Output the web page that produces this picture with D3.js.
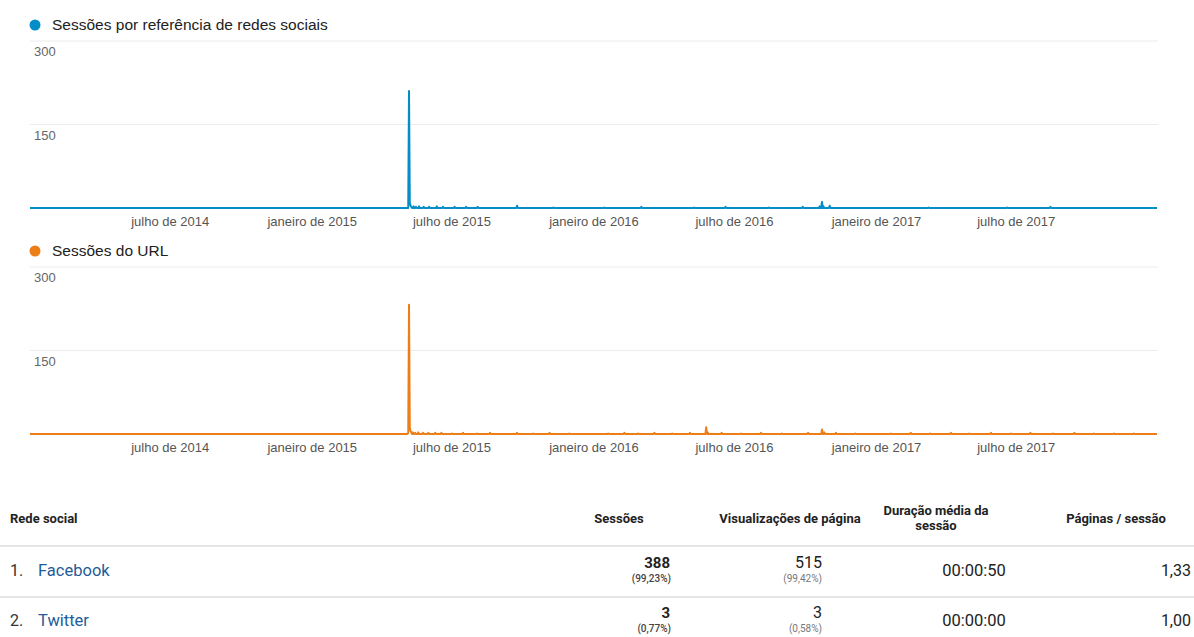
<!DOCTYPE html>
<html><head><meta charset="utf-8">
<script src="https://cdn.jsdelivr.net/npm/d3@7"></script>
<style>
html,body{margin:0;padding:0;background:#fff;overflow:hidden;}
svg{display:block;}
</style></head>
<body>
<svg id="c" width="1194" height="637"></svg>
<script>
// ---------- DATA ----------
const startDate = "2014-01-01";
const endDate = "2017-12-31";
const tickDates = ["2014-07-01","2015-01-01","2015-07-01","2016-01-01","2016-07-01","2017-01-01","2017-07-01"];
const tickLabels = ["julho de 2014","janeiro de 2015","julho de 2015","janeiro de 2016","julho de 2016","janeiro de 2017","julho de 2017"];
const yTicks = [0,150,300];

const seriesNames = ["Sessões por referência de redes sociais","Sessões do URL"];
const seriesColors = ["#058dc7","#ed7e17"];

// non-zero days (all other days are 0)
const socialDates = ["2015-05-07","2015-05-08","2015-05-09","2015-05-10","2015-05-13","2015-05-16","2015-05-20","2015-05-26","2015-06-02","2015-06-12","2015-06-20","2015-07-05","2015-07-20","2015-08-04","2015-09-24","2015-11-10","2016-01-15","2016-03-03","2016-05-10","2016-06-20","2016-08-15","2016-09-28","2016-10-20","2016-10-23","2016-10-25","2016-11-02","2017-03-10","2017-06-20","2017-08-15"];
const socialValues = [210,10,4,2,3,2,3,2,2,3,2,2,2,2,4,1,1,2,1,2,1,2,3,11,3,4,1,1,2];

const urlDates = ["2015-05-06","2015-05-07","2015-05-08","2015-05-09","2015-05-10","2015-05-12","2015-05-15","2015-05-19","2015-05-25","2015-06-01","2015-06-10","2015-06-18","2015-07-02","2015-07-16","2015-08-03","2015-08-20","2015-09-24","2015-10-15","2015-11-05","2015-12-01","2016-01-20","2016-02-10","2016-02-28","2016-03-20","2016-04-12","2016-05-05","2016-05-26","2016-05-28","2016-06-15","2016-07-10","2016-08-05","2016-09-01","2016-10-05","2016-10-23","2016-10-26","2016-11-10","2016-12-05","2017-01-20","2017-02-15","2017-03-12","2017-04-08","2017-05-02","2017-05-30","2017-06-25","2017-07-20","2017-08-18","2017-09-15","2017-10-10","2017-11-05","2017-12-01"];
const urlValues = [2,232,12,5,3,3,2,3,2,2,2,2,1,2,1,2,2,1,2,1,1,2,1,2,1,2,12,3,2,1,2,1,2,8,3,2,1,1,2,1,2,1,2,1,2,1,2,1,1,1];

const tableHeaders = ["Rede social","Sessões","Visualizações de página","Duração média da|sessão","Páginas / sessão"];
const networks = ["Facebook","Twitter"];
const sessions = ["388","3"];
const sessionsPct = ["(99,23%)","(0,77%)"];
const pageviews = ["515","3"];
const pageviewsPct = ["(99,42%)","(0,58%)"];
const avgDuration = ["00:00:50","00:00:00"];
const pagesPerSession = ["1,33","1,00"];

// ---------- BUILD ----------
const parse = d3.timeParse("%Y-%m-%d");
const fmt = d3.timeFormat("%Y-%m-%d");
const days = d3.timeDay.range(parse(startDate), d3.timeDay.offset(parse(endDate),1));
function buildSeries(dates, vals){
  const m = new Map(dates.map((d,i)=>[d, vals[i]]));
  return days.map(d => ({date:d, value: m.has(fmt(d)) ? m.get(fmt(d)) : 0}));
}
const allSeries = [buildSeries(socialDates, socialValues), buildSeries(urlDates, urlValues)];

const svg = d3.select("#c");
const x = d3.scaleTime().domain([parse(startDate), parse(endDate)]).range([30,1157]);
const cf = "Liberation Sans, Arial, sans-serif";

const panels = [
  {legendY:25, top:41, base:208},
  {legendY:251, top:267, base:434}
];

panels.forEach((p,i)=>{
  const g = svg.append("g");
  const y = d3.scaleLinear().domain([0,300]).range([p.base,p.top]);
  g.append("circle").attr("cx",35).attr("cy",p.legendY).attr("r",5.5).attr("fill",seriesColors[i]);
  g.append("text").attr("x",52).attr("y",p.legendY+5)
    .attr("font-family",cf).attr("font-size",15.5).attr("fill","#222")
    .text(seriesNames[i]);
  g.selectAll("line.grid").data(yTicks.filter(v=>v>0)).join("line")
    .attr("x1",30).attr("x2",1158).attr("y1",d=>y(d)).attr("y2",d=>y(d))
    .attr("stroke","#ececec").attr("stroke-width",1);
  g.selectAll("text.ylab").data(yTicks.filter(v=>v>0)).join("text")
    .attr("x",34).attr("y",d=>y(d)+15)
    .attr("font-family",cf).attr("font-size",13).attr("fill","#666")
    .text(d=>d);
  const ax = d3.axisBottom(x).tickValues(tickDates.map(parse)).tickSize(0).tickPadding(9)
    .tickFormat((d,k)=>tickLabels[k]);
  const axg = g.append("g").attr("transform",`translate(0,${p.base})`).call(ax);
  axg.select(".domain").remove();
  axg.selectAll("text").attr("font-family",cf).attr("font-size",13).attr("fill","#555");
  const line = d3.line().x(d=>x(d.date)).y(d=>y(d.value));
  g.append("path").datum(allSeries[i]).attr("d",line)
    .attr("fill","none").attr("stroke",seriesColors[i]).attr("stroke-width",2).attr("stroke-linejoin","round");
});

// ---------- TABLE ----------
const tf = "Roboto, Arial, sans-serif";
const tg = svg.append("g").attr("font-family",tf);
const hdrY = 523;
const hs = 13;
tg.append("text").attr("x",10).attr("y",hdrY).attr("font-size",hs).attr("font-weight",700).attr("fill","#222").text(tableHeaders[0]);
tg.append("text").attr("x",619).attr("y",hdrY).attr("text-anchor","middle").attr("font-size",hs).attr("font-weight",700).attr("fill","#222").text(tableHeaders[1]);
tg.append("text").attr("x",790).attr("y",hdrY).attr("text-anchor","middle").attr("font-size",hs).attr("font-weight",700).attr("fill","#222").text(tableHeaders[2]);
tableHeaders[3].split("|").forEach((t,k)=>{
  tg.append("text").attr("x",936).attr("y",hdrY-8+k*15).attr("text-anchor","middle").attr("font-size",hs).attr("font-weight",700).attr("fill","#222").text(t);
});
tg.append("text").attr("x",1116).attr("y",hdrY).attr("text-anchor","middle").attr("font-size",hs).attr("font-weight",700).attr("fill","#222").text(tableHeaders[4]);

[546,597].forEach(yy=>{
  tg.append("line").attr("x1",0).attr("x2",1194).attr("y1",yy).attr("y2",yy).attr("stroke","#e5e5e5").attr("stroke-width",2);
});

networks.forEach((n,i)=>{
  const cy = 571 + i*50;
  tg.append("text").attr("x",10).attr("y",cy+5).attr("font-size",16).attr("fill","#333").text((i+1)+".");
  tg.append("text").attr("x",38).attr("y",cy+5).attr("font-size",16.5).attr("fill","#1f5c99").text(n);
  tg.append("text").attr("x",670).attr("y",cy-3).attr("text-anchor","end").attr("font-size",15).attr("font-weight",700).attr("fill","#222").text(sessions[i]);
  tg.append("text").attr("x",671).attr("y",cy+11).attr("text-anchor","end").attr("font-size",10).attr("font-weight",500).attr("fill","#444").text(sessionsPct[i]);
  tg.append("text").attr("x",822).attr("y",cy-3).attr("text-anchor","end").attr("font-size",16).attr("fill","#222").text(pageviews[i]);
  tg.append("text").attr("x",822).attr("y",cy+11).attr("text-anchor","end").attr("font-size",10).attr("fill","#777").text(pageviewsPct[i]);
  tg.append("text").attr("x",974).attr("y",cy+5).attr("text-anchor","middle").attr("font-size",16.5).attr("fill","#222").text(avgDuration[i]);
  tg.append("text").attr("x",1191).attr("y",cy+5).attr("text-anchor","end").attr("font-size",16).attr("fill","#222").text(pagesPerSession[i]);
});
</script>
</body></html>
